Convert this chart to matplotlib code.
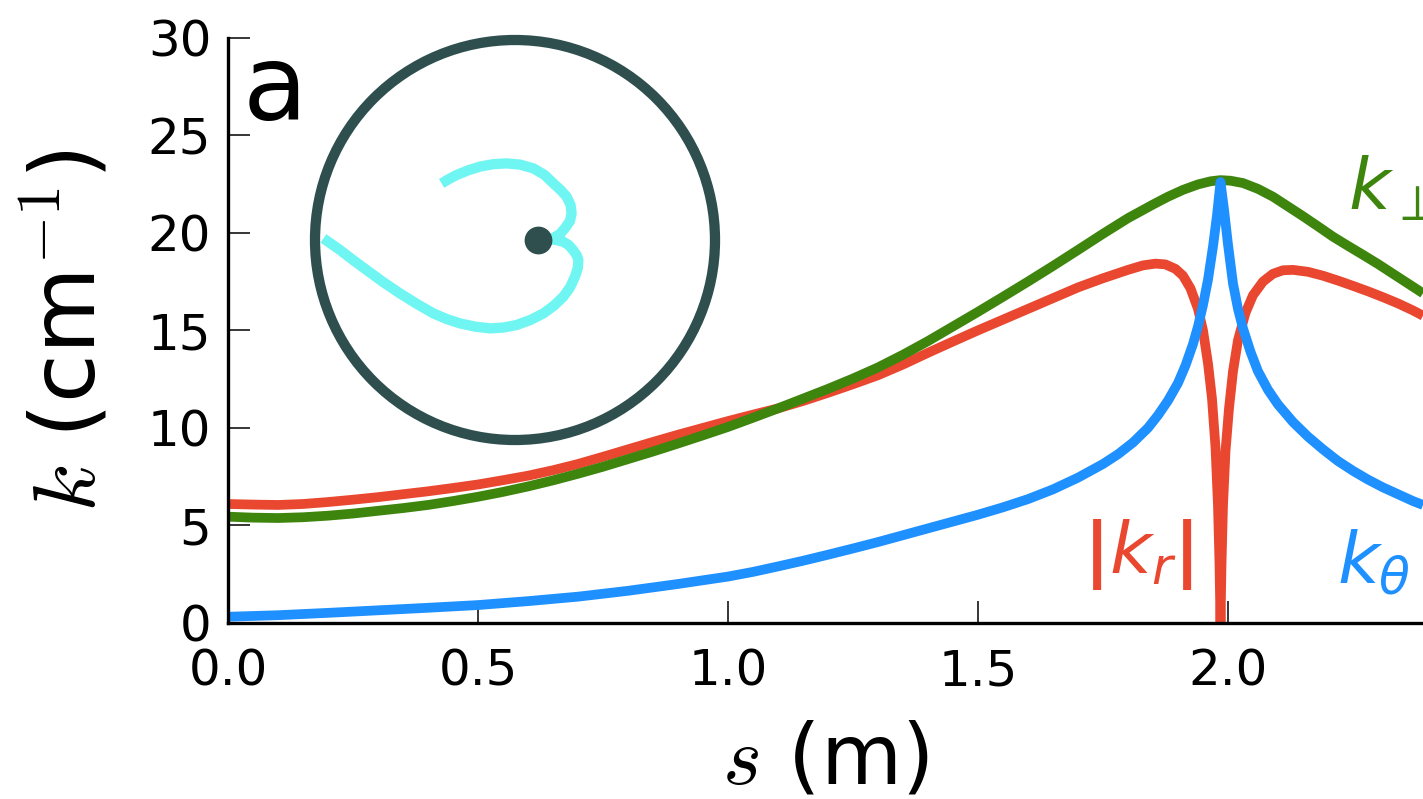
import matplotlib
matplotlib.use("Agg")
import matplotlib.pyplot as plt
from matplotlib.patches import Circle

# ---- data ----
s_perp = [0.00, 0.05, 0.10, 0.15, 0.20, 0.25, 0.30, 0.35, 0.40, 0.45, 0.50, 0.55, 0.60,
          0.65, 0.70, 0.75, 0.80, 0.85, 0.90, 0.95, 1.00, 1.05, 1.10, 1.15, 1.20, 1.25,
          1.30, 1.35, 1.40, 1.45, 1.50, 1.55, 1.60, 1.65, 1.70, 1.75, 1.80, 1.85, 1.88,
          1.91, 1.94, 1.965, 1.985, 2.005, 2.03, 2.06, 2.09, 2.12, 2.15, 2.18, 2.21, 2.24,
          2.27, 2.30, 2.33, 2.36, 2.39]
k_perp = [5.45, 5.40, 5.38, 5.42, 5.50, 5.61, 5.75, 5.89, 6.05, 6.25, 6.47, 6.72, 7.00,
          7.31, 7.65, 8.01, 8.40, 8.79, 9.20, 9.62, 10.05, 10.52, 11.00, 11.50, 12.00, 12.53,
          13.10, 13.75, 14.45, 15.20, 15.95, 16.72, 17.50, 18.30, 19.12, 19.95, 20.75, 21.45, 21.85,
          22.20, 22.48, 22.64, 22.70, 22.67, 22.55, 22.25, 21.85, 21.35, 20.85, 20.33, 19.80, 19.33,
          18.87, 18.40, 17.90, 17.40, 16.90]

s_r = [0.00, 0.05, 0.10, 0.15, 0.20, 0.25, 0.30, 0.35, 0.40, 0.45, 0.50, 0.55, 0.60,
       0.65, 0.70, 0.75, 0.80, 0.85, 0.90, 0.95, 1.00, 1.05, 1.10, 1.15, 1.20, 1.25,
       1.30, 1.35, 1.40, 1.45, 1.50, 1.55, 1.60, 1.65, 1.70, 1.75, 1.80, 1.83, 1.855,
       1.875, 1.895, 1.91, 1.925, 1.94, 1.95, 1.96, 1.968, 1.975, 1.980, 1.983, 1.985,
       1.987, 1.990, 1.995, 2.002, 2.010, 2.02, 2.035, 2.05, 2.07, 2.09, 2.11, 2.13,
       2.16, 2.19, 2.22, 2.25, 2.28, 2.31, 2.34, 2.37, 2.39]
k_r = [6.10, 6.07, 6.05, 6.10, 6.20, 6.32, 6.45, 6.60, 6.75, 6.92, 7.10, 7.32, 7.55,
       7.83, 8.15, 8.52, 8.90, 9.28, 9.65, 10.00, 10.35, 10.68, 11.00, 11.38, 11.80, 12.24,
       12.70, 13.25, 13.85, 14.43, 15.00, 15.55, 16.10, 16.65, 17.20, 17.67, 18.10, 18.33, 18.42,
       18.38, 18.15, 17.80, 17.15, 16.10, 15.00, 13.30, 11.50, 9.00, 6.00, 3.00, 0.00,
       3.00, 6.00, 8.80, 11.00, 12.90, 14.50, 15.90, 16.80, 17.50, 17.90, 18.08, 18.10,
       18.00, 17.80, 17.55, 17.28, 17.00, 16.70, 16.38, 16.02, 15.75]

s_theta = [0.00, 0.10, 0.20, 0.30, 0.40, 0.50, 0.60, 0.70, 0.80, 0.90, 1.00, 1.05, 1.10,
           1.15, 1.20, 1.25, 1.30, 1.35, 1.40, 1.45, 1.50, 1.55, 1.60, 1.65, 1.70, 1.75,
           1.78, 1.81, 1.84, 1.86, 1.88, 1.90, 1.915, 1.93, 1.94, 1.95, 1.96, 1.97, 1.978,
           1.985, 1.992, 2.000, 2.010, 2.02, 2.03, 2.045, 2.06, 2.08, 2.10, 2.13, 2.16, 2.19,
           2.22, 2.25, 2.28, 2.31, 2.34, 2.37, 2.39]
k_theta = [0.32, 0.40, 0.52, 0.65, 0.78, 0.92, 1.12, 1.35, 1.65, 2.00, 2.38, 2.62, 2.90,
           3.19, 3.50, 3.82, 4.15, 4.50, 4.85, 5.20, 5.55, 5.93, 6.35, 6.85, 7.45, 8.15,
           8.65, 9.25, 10.00, 10.65, 11.40, 12.30, 13.20, 14.30, 15.20, 16.30, 17.60, 19.30, 20.90,
           22.60, 21.20, 19.40, 17.40, 16.10, 15.10, 13.90, 12.90, 11.95, 11.20, 10.30, 9.55, 8.90,
           8.30, 7.80, 7.35, 6.95, 6.60, 6.25, 6.05]

# inset trajectory (unit circle = chamber wall)
traj_x = [-0.367, -0.330, -0.292, -0.235, -0.175, -0.110, -0.042, 0.025, 0.092, 0.147,
          0.192, 0.228, 0.258, 0.278, 0.283, 0.275, 0.252, 0.225, 0.195, 0.172,
          0.205, 0.240, 0.268, 0.290, 0.308, 0.317, 0.314, 0.300, 0.275, 0.242, 0.195,
          0.142, 0.077, 0.008, -0.060, -0.125, -0.200, -0.275, -0.342, -0.408, -0.490,
          -0.575, -0.660, -0.742, -0.810, -0.875, -0.958]
traj_y = [0.283, 0.305, 0.325, 0.348, 0.367, 0.379, 0.383, 0.377, 0.358, 0.326,
          0.283, 0.250, 0.217, 0.175, 0.133, 0.095, 0.062, 0.030, 0.012, 0.004,
          0.000, -0.008, -0.025, -0.050, -0.075, -0.100, -0.140, -0.183, -0.237, -0.283, -0.328,
          -0.367, -0.400, -0.425, -0.438, -0.442, -0.433, -0.417, -0.395, -0.367, -0.320,
          -0.267, -0.210, -0.150, -0.100, -0.050, 0.008]
dot_xy = (0.115, 0.0)

x_ticks = [0.0, 0.5, 1.0, 1.5, 2.0]
y_ticks = [0, 5, 10, 15, 20, 25, 30]

C_RED = "#E9472F"
C_GREEN = "#3E850E"
C_BLUE = "#1E90FF"
C_WALL = "#2F4F4F"
C_TRAJ = "#6FF5F2"

plt.rcParams['font.family'] = ['DejaVu Sans']

W, H = 1423, 799
fig = plt.figure(figsize=(W / 100, H / 100), dpi=100)
ax = fig.add_axes([228 / W, (H - 623) / H, (W - 228) / W, (623 - 37.7) / H])

lw = 7.0
kw = dict(lw=lw, solid_joinstyle='round', solid_capstyle='butt')
ax.plot(s_r, k_r, color=C_RED, zorder=2, **kw)
ax.plot(s_perp, k_perp, color=C_GREEN, zorder=3, **kw)
ax.plot(s_theta, k_theta, color=C_BLUE, zorder=4, **kw)

ax.set_xlim(0, 2.39)
ax.set_ylim(0, 30)
ax.set_xticks(x_ticks)
ax.set_yticks(y_ticks)
ax.set_xticklabels([f"{v:.1f}" for v in x_ticks])
ax.set_yticklabels([str(v) for v in y_ticks])
for sp in ['top', 'right']:
    ax.spines[sp].set_visible(False)
for sp in ['left', 'bottom']:
    ax.spines[sp].set_linewidth(2.4)
    ax.spines[sp].set_zorder(5)
ax.tick_params(direction='in', length=16, width=1.1, labelsize=36)
ax.tick_params(axis='x', pad=18)
ax.tick_params(axis='y', pad=12)

ax.set_xlabel(r"$s$ (m)", fontsize=60, math_fontfamily='cm', labelpad=17)
ax.set_ylabel(r"$k$ (cm$^{-1}$)", fontsize=64, math_fontfamily='cm', labelpad=24)

ax.text(0.012, 0.859, "a", transform=ax.transAxes, fontsize=76, va='baseline', ha='left')

ax.text(1.71, 2.56, r"$\mathbf{|}k_r\mathbf{|}$", color=C_RED, fontsize=52,
        math_fontfamily='dejavusans', va='baseline', ha='left')
ax.text(2.218, 2.05, r"$k_\theta$", color=C_BLUE, fontsize=52, math_fontfamily='dejavusans',
        va='baseline', ha='left', clip_on=False)
ax.text(2.24, 21.2, r"$k_\perp$", color=C_GREEN, fontsize=52, math_fontfamily='dejavusans',
        va='baseline', ha='left', clip_on=False)

# inset: chamber cross-section
cx, cy, R = 515, 240, 200
half = 1.1 * R
ins = fig.add_axes([(cx - half) / W, (H - cy - half) / H, 2 * half / W, 2 * half / H])
ins.set_xlim(-1.1, 1.1)
ins.set_ylim(-1.1, 1.1)
ins.axis('off')
ins.patch.set_alpha(0)
ins.add_patch(Circle((0, 0), 1.0, fill=False, ec=C_WALL, lw=7.4))
ins.plot(traj_x, traj_y, color=C_TRAJ, lw=7.4, solid_joinstyle='round', solid_capstyle='butt')
ins.plot([dot_xy[0]], [dot_xy[1]], 'o', color=C_WALL, ms=19)

fig.savefig("out.png", dpi=100)
